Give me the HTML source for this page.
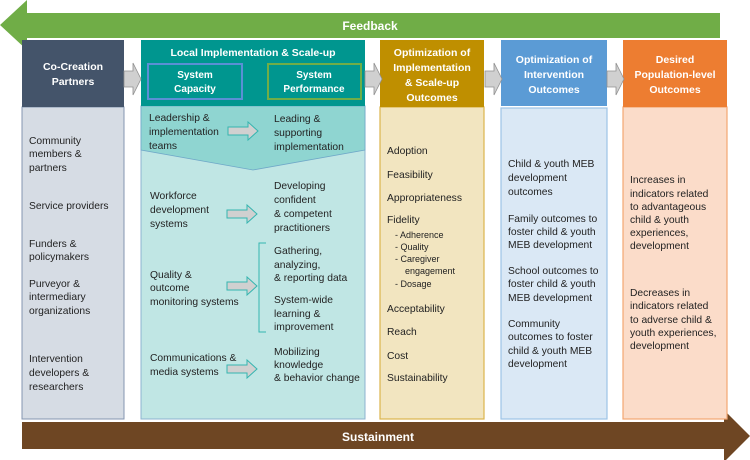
<!DOCTYPE html>
<html><head><meta charset="utf-8"><style>
html,body{margin:0;padding:0;background:#fff;}
svg{display:block;}
text{font-family:"Liberation Sans",sans-serif;font-size:10.3px;fill:#222;}
.h{font-weight:bold;fill:#fff;font-size:10.5px;text-anchor:middle;}
</style></head><body>
<svg width="750" height="460" viewBox="0 0 750 460">
<defs>
<g id="sa"><polygon points="0,-4 20,-4 20,-9 30,0 20,9 20,4 0,4" fill="#d0d0d0" stroke="#35b5b0" stroke-width="1"/></g>
<g id="ba"><polygon points="0,-8 9,-8 9,-16 17,0 9,16 9,8 0,8" fill="#d0d0d0" stroke="#909090" stroke-width="0.8"/></g>
</defs>
<!-- Feedback arrow -->
<polygon points="0,25 27,0 27,13 720,13 720,38 27,38 27,50" fill="#70ad47"/>
<text x="370" y="30" class="h" style="font-size:12px">Feedback</text>
<!-- Sustainment arrow -->
<polygon points="22,422 724,422 724,410 750,436 724,462 724,449 22,449" fill="#6e4623"/>
<text x="378" y="441" class="h" style="font-size:12px">Sustainment</text>

<!-- Co-Creation -->
<rect x="22" y="107" width="102" height="312" fill="#d6dce4" stroke="#8496b0" stroke-width="1"/>
<rect x="22" y="40" width="102" height="67" fill="#44546a"/>
<text x="73" y="70" class="h">Co-Creation</text>
<text x="73" y="85" class="h">Partners</text>
<text x="29" y="144">Community</text><text x="29" y="157">members &amp;</text><text x="29" y="171">partners</text>
<text x="29" y="209">Service providers</text>
<text x="29" y="247">Funders &amp;</text><text x="29" y="260">policymakers</text>
<text x="29" y="287">Purveyor &amp;</text><text x="29" y="300">intermediary</text><text x="29" y="314">organizations</text>
<text x="29" y="362">Intervention</text><text x="29" y="376">developers &amp;</text><text x="29" y="390">researchers</text>

<!-- Local -->
<rect x="141" y="106" width="224" height="313" fill="#c0e6e4" stroke="#8db3cf" stroke-width="1"/>
<polygon points="141,106 365,106 365,150 253,170 141,150" fill="#8fd5d1" stroke="#6fa8c8" stroke-width="0.8"/>
<rect x="141" y="40" width="224" height="66" fill="#00968f"/>
<text x="253" y="56" class="h">Local Implementation &amp; Scale-up</text>
<rect x="148" y="64" width="94" height="35" fill="none" stroke="#5b8fd5" stroke-width="2"/>
<rect x="268" y="64" width="93" height="35" fill="none" stroke="#70ad47" stroke-width="2"/>
<text x="195" y="78" class="h" style="font-size:10px">System</text><text x="195" y="92" class="h" style="font-size:10px">Capacity</text>
<text x="314" y="78" class="h" style="font-size:10px">System</text><text x="314" y="92" class="h" style="font-size:10px">Performance</text>
<use href="#sa" x="228" y="131"/><use href="#sa" x="227" y="214"/><use href="#sa" x="227" y="286"/><use href="#sa" x="227" y="369"/>
<path d="M266,243 L259,243 L259,332 L266,332" fill="none" stroke="#35b5b0" stroke-width="1"/>
<text x="149" y="121">Leadership &amp;</text><text x="149" y="135">implementation</text><text x="149" y="149">teams</text>
<text x="274" y="122">Leading &amp;</text><text x="274" y="136">supporting</text><text x="274" y="150">implementation</text>
<text x="150" y="199">Workforce</text><text x="150" y="213">development</text><text x="150" y="227">systems</text>
<text x="274" y="189">Developing</text><text x="274" y="203">confident</text><text x="274" y="217">&amp; competent</text><text x="274" y="231">practitioners</text>
<text x="150" y="278">Quality &amp;</text><text x="150" y="291">outcome</text><text x="150" y="305">monitoring systems</text>
<text x="274" y="254">Gathering,</text><text x="274" y="268">analyzing,</text><text x="274" y="281">&amp; reporting data</text>
<text x="274" y="303">System-wide</text><text x="274" y="317">learning &amp;</text><text x="274" y="330">improvement</text>
<text x="150" y="361">Communications &amp;</text><text x="150" y="375">media systems</text>
<text x="274" y="355">Mobilizing</text><text x="274" y="368">knowledge</text><text x="274" y="381">&amp; behavior change</text>

<!-- Optimization impl -->
<rect x="380" y="107" width="104" height="312" fill="#f2e5c0" stroke="#dcb54c" stroke-width="1.2"/>
<rect x="380" y="40" width="104" height="67" fill="#bf8f00"/>
<text x="432" y="56" class="h">Optimization of</text><text x="432" y="71" class="h">Implementation</text><text x="432" y="86" class="h">&amp; Scale-up</text><text x="432" y="101" class="h">Outcomes</text>
<text x="387" y="154">Adoption</text><text x="387" y="178">Feasibility</text><text x="387" y="201">Appropriateness</text><text x="387" y="223">Fidelity</text>
<text x="395" y="238" style="font-size:9px">-  Adherence</text><text x="395" y="250" style="font-size:9px">-  Quality</text><text x="395" y="262" style="font-size:9px">-  Caregiver</text><text x="405" y="274" style="font-size:9px">engagement</text><text x="395" y="287" style="font-size:9px">-  Dosage</text>
<text x="387" y="312">Acceptability</text><text x="387" y="335">Reach</text><text x="387" y="359">Cost</text><text x="387" y="381">Sustainability</text>

<!-- Optimization intervention -->
<rect x="501" y="108" width="106" height="311" fill="#dae8f5" stroke="#9dc3e6" stroke-width="1.2"/>
<rect x="501" y="40" width="106" height="66" fill="#5b9bd5"/>
<text x="554" y="63" class="h">Optimization of</text><text x="554" y="78" class="h">Intervention</text><text x="554" y="93" class="h">Outcomes</text>
<text x="508" y="167">Child &amp; youth MEB</text><text x="508" y="181">development</text><text x="508" y="195">outcomes</text>
<text x="508" y="222">Family outcomes to</text><text x="508" y="235">foster child &amp; youth</text><text x="508" y="248">MEB development</text>
<text x="508" y="274">School outcomes to</text><text x="508" y="287">foster child &amp; youth</text><text x="508" y="301">MEB development</text>
<text x="508" y="327">Community</text><text x="508" y="340">outcomes to foster</text><text x="508" y="354">child &amp; youth MEB</text><text x="508" y="367">development</text>

<!-- Desired -->
<rect x="623" y="107" width="104" height="312" fill="#fbdcc9" stroke="#f4a672" stroke-width="1.2"/>
<rect x="623" y="40" width="104" height="67" fill="#ed7d31"/>
<text x="675" y="63" class="h">Desired</text><text x="675" y="78" class="h">Population-level</text><text x="675" y="93" class="h">Outcomes</text>
<text x="630" y="183">Increases in</text><text x="630" y="197">indicators related</text><text x="630" y="210">to advantageous</text><text x="630" y="223">child &amp; youth</text><text x="630" y="236">experiences,</text><text x="630" y="249">development</text>
<text x="630" y="296">Decreases in</text><text x="630" y="309">indicators related</text><text x="630" y="323">to adverse child &amp;</text><text x="630" y="336">youth experiences,</text><text x="630" y="349">development</text>

<use href="#ba" x="124" y="79"/><use href="#ba" x="365" y="79"/><use href="#ba" x="485" y="79"/><use href="#ba" x="607" y="79"/>
</svg>
</body></html>
